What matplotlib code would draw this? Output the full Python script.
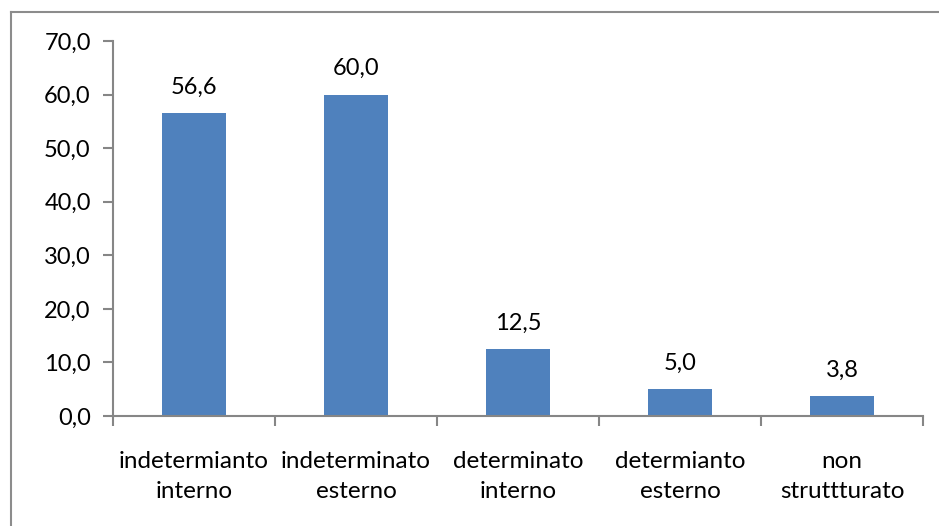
import matplotlib.pyplot as plt
from matplotlib.lines import Line2D

plt.rcParams['font.family'] = ['Lato', 'DejaVu Sans']

categories = ['indetermianto\ninterno', 'indeterminato\nesterno', 'determinato\ninterno',
              'determianto\nesterno', 'non\nstruttturato']
values = [56.6, 60.0, 12.5, 5.0, 3.8]
yticks = [0, 10, 20, 30, 40, 50, 60, 70]

W, H = 939, 526
fig = plt.figure(figsize=(W / 100, H / 100), dpi=100)
ax = fig.add_axes([113 / W, 1 - 416 / H, 810 / W, 375 / H])

x = range(len(values))
ax.bar(x, values, width=0.40, color='#4F81BD', zorder=2)
for i, v in zip(x, values):
    ax.annotate(f'{v:.1f}'.replace('.', ','), (i, v), xytext=(0, 11), textcoords='offset points',
                ha='center', va='bottom', fontsize=17)

ax.set_xlim(-0.5, len(values) - 0.5)
ax.set_ylim(0, 70)
ax.set_yticks(yticks)
ax.set_yticklabels([f'{t:.1f}'.replace('.', ',') for t in yticks], fontsize=17)
ax.set_xticks([i - 0.5 for i in range(len(values) + 1)], minor=False)
ax.set_xticklabels([])
ax.set_xticks(list(x), minor=True)
ax.set_xticklabels(categories, minor=True, fontsize=17.5, linespacing=1.55)
ax.tick_params(axis='x', which='minor', length=0, pad=25)
ax.tick_params(axis='x', which='major', length=7, width=1.5, color='#868686', direction='out')
ax.tick_params(axis='y', length=7, width=1.5, color='#868686', direction='out', pad=9)

for s in ['top', 'right']:
    ax.spines[s].set_visible(False)
for s in ['left', 'bottom']:
    ax.spines[s].set_color('#868686')
    ax.spines[s].set_linewidth(1.5)

# outer chart frame
fig.add_artist(Line2D([11 / W, 11 / W], [0, 1 - 12 / H], color='#8c8c8c', lw=1.5))
fig.add_artist(Line2D([11 / W, 1], [1 - 12 / H, 1 - 12 / H], color='#8c8c8c', lw=1.5))

fig.savefig('out.png', dpi=100)
